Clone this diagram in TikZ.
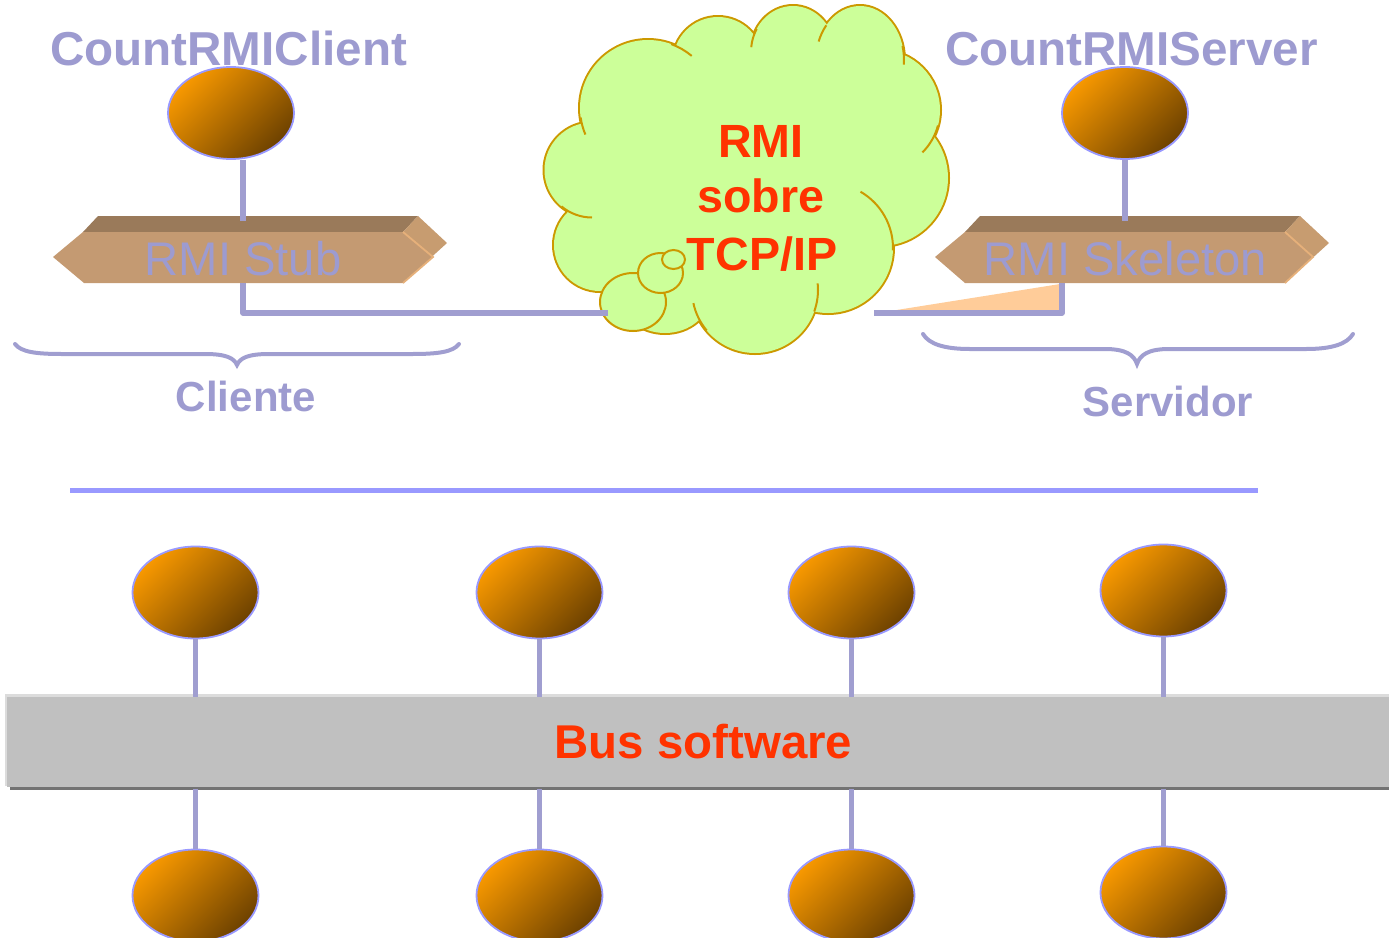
\documentclass[tikz,border=0pt]{standalone}
\usepackage{fontspec}
\setmainfont{Liberation Sans}
\usetikzlibrary{shapes.geometric}
\definecolor{lav}{HTML}{9D9BD0}
\definecolor{linkc}{HTML}{A09ED0}
\definecolor{rulec}{HTML}{9999FF}
\definecolor{ballrim}{HTML}{9999FF}
\definecolor{ballhi}{HTML}{F79800}
\definecolor{balllo}{HTML}{6E4200}
\definecolor{stubfront}{HTML}{C49A72}
\definecolor{stubtop}{HTML}{9A7A5A}
\definecolor{stubside}{HTML}{C79C70}
\definecolor{stubedge}{HTML}{E6B07A}
\definecolor{cloudfill}{HTML}{CCFF99}
\definecolor{cloudline}{HTML}{CC9900}
\definecolor{netred}{HTML}{FF3300}
\definecolor{peach}{HTML}{FFCC99}
\definecolor{busgray}{HTML}{C0C0C0}
\definecolor{buslight}{HTML}{DCDCDC}
\definecolor{busdark}{HTML}{737373}
\begin{document}
\begin{tikzpicture}[x=0.5pt,y=-0.5pt,
  ball/.style={ellipse, inner sep=0pt, minimum width=63pt, minimum height=46pt,
    draw=ballrim, line width=0.9pt, top color=ballhi, bottom color=balllo, shading angle=45},
  link/.style={draw=linkc, line width=2.8pt},
  bracec/.style={draw=linkc, line width=2pt, line cap=round},
  lbl/.style={inner sep=0pt, anchor=base},
  titlelav/.style={lbl, text=lav, font=\bfseries\fontsize{23.8}{28}\selectfont},
  sublav/.style={lbl, text=lav, font=\bfseries\fontsize{21}{25}\selectfont},
  stubtxt/.style={lbl, text=lav, font=\fontsize{23.6}{28}\selectfont},
  redtxt/.style={lbl, text=netred, font=\bfseries\fontsize{23.3}{28}\selectfont},
  busbox/.style={rectangle, fill=busgray, inner sep=0pt, minimum width=696.5pt, minimum height=45pt,
    text=netred, font=\bfseries\fontsize{23.7}{28}\selectfont},
  hook/.style={draw=cloudline, line width=1pt},
  bubble/.style={fill=cloudfill, draw=cloudline, line width=1pt}
]
\useasboundingbox (0,0) rectangle (1389,938);

% ---------- software bus ----------
\fill[buslight] (5,694) rectangle (1400,786);
\node[busbox] (bus) at (703.5,742) {Bus software};
\draw[busdark, line width=1.1pt] (10,788.5) -- (1400,788.5);

% ---------- separator ----------
\coordinate (sepL) at (70,490.5);
\coordinate (sepR) at (1258,490.5);
\draw[rulec, line width=2.9pt] (sepL) -- (sepR);

% ---------- cloud ----------
\foreach \cx/\cy/\rx/\ry in {648/108/68/68, 718/62/45/45, 793/52/42/46, 860/60/44/54,
    880/110/60/60, 880/178/68/68, 828/248/65/65, 755/290/63/63, 665/295/45/38,
    600/245/46/46, 592/170/47.5/47.5}
  \draw[cloudline, line width=2pt] (\cx,\cy) ellipse[x radius=\rx, y radius=\ry];
\foreach \cx/\cy/\rx/\ry in {648/108/68/68, 718/62/45/45, 793/52/42/46, 860/60/44/54,
    880/110/60/60, 880/178/68/68, 828/248/65/65, 755/290/63/63, 665/295/45/38,
    600/245/46/46, 592/170/47.5/47.5}
  \fill[cloudfill] (\cx,\cy) ellipse[x radius=\rx, y radius=\ry];
\fill[cloudfill] (648,108) -- (718,62) -- (793,52) -- (860,60) -- (880,110) -- (880,178)
  -- (828,248) -- (755,290) -- (665,295) -- (600,245) -- (592,170) -- cycle;
% inner ends of the puffs
\foreach \cx/\cy/\rx/\ry/\a/\b in {648/108/68/68/172/157, 648/108/68/68/290/310,
    793/52/42/46/210/186, 860/60/44/54/220/200, 860/60/44/54/-15/5,
    880/110/60/60/15/45, 828/248/65/65/300/362, 755/290/63/63/140/168,
    755/290/63/63/20/-6, 592/170/47.5/47.5/130/90}
  \draw[hook] (\cx,\cy) ++({\rx*cos(\a)},{\ry*sin(\a)}) arc[start angle=\a, end angle=\b, x radius=\rx, y radius=\ry];
% thought bubbles
\draw[bubble] (633,302) ellipse[x radius=33, y radius=29];
\draw[bubble] (660.5,273) ellipse[x radius=22.5, y radius=20];
\draw[bubble] (673.5,259.5) ellipse[x radius=11.5, y radius=9.5];
\node[redtxt] (n1) at (761,157) {RMI};
\node[redtxt] (n2) at (761,212) {sobre};
\node[redtxt] (n3) at (762,270) {TCP/IP};
\coordinate (cloudL) at (608,313);
\coordinate (cloudR) at (874,313);

% ---------- skeleton shadow ----------
\fill[peach] (884,312) -- (1060,284) -- (1060,312) -- cycle;

% ---------- stub bar ----------
\fill[stubtop] (83,232) -- (98,216) -- (418,216) -- (403,232) -- cycle;
\fill[stubside] (403,232) -- (418,216) -- (447,243) -- (403,283) -- (433,257) -- cycle;
\fill[stubfront] (53,257) -- (83,232) -- (403,232) -- (433,257) -- (403,283) -- (84,283) -- cycle;
\draw[stubedge, line width=0.9pt] (403,232) -- (433,257) -- (403,283);
\node[stubtxt] (stubtxt) at (243,275) {RMI Stub};
\coordinate (stubT) at (243,221);
\coordinate (stubB) at (243,283);

% ---------- skeleton bar ----------
\fill[stubtop] (965,232) -- (980,216) -- (1300,216) -- (1285,232) -- cycle;
\fill[stubside] (1285,232) -- (1300,216) -- (1329,243) -- (1285,283) -- (1313,257) -- cycle;
\fill[stubfront] (935,257) -- (965,232) -- (1285,232) -- (1313,257) -- (1285,283) -- (965,283) -- cycle;
\draw[stubedge, line width=0.9pt] (1285,232) -- (1313,257) -- (1285,283);
\node[stubtxt] (skeltxt) at (1125.5,275) {RMI Skeleton};
\coordinate (skelT) at (1125,221);
\coordinate (skelB) at (1062,283);

% ---------- objects ----------
\node[ball] (cli) at (231,113) {};
\node[ball] (srv) at (1125,113) {};
\node[ball] (a1) at (195.5,592.5) {};
\node[ball] (a2) at (539.5,592.5) {};
\node[ball] (a3) at (851.5,592.5) {};
\node[ball] (a4) at (1163.5,590.5) {};
\node[ball] (b1) at (195.5,895.5) {};
\node[ball] (b2) at (539.5,895.5) {};
\node[ball] (b3) at (851.5,895.5) {};
\node[ball] (b4) at (1163.5,892.5) {};

% ---------- connectors ----------
\draw[link] (stubT |- cli.south) -- (stubT);
\draw[link] (srv.south) -- (skelT);
\draw[link, line join=round] (stubB) |- (cloudL);
\draw[link, line join=round] (skelB) |- (cloudR);
\foreach \n in {a1,a2,a3,a4}
  \draw[link] (\n.south) -- (\n.south |- bus.north);
\foreach \n in {b1,b2,b3,b4}
  \draw[link] (\n.north |- bus.south) ++(0,1.5) -- (\n.north);

% ---------- braces ----------
\draw[bracec] (15,344) .. controls (21,352) and (36,354) .. (62,354) -- (205,354)
  .. controls (226,354) and (234,358) .. (237,365)
  .. controls (240,358) and (248,354) .. (269,354) -- (412,354)
  .. controls (438,354) and (453,352) .. (459,344);
\draw[bracec] (923,334) .. controls (929,344) and (944,349) .. (970,349) -- (1105,349)
  .. controls (1126,349) and (1134,355) .. (1137,364)
  .. controls (1140,355) and (1148,349) .. (1169,349) -- (1306,349)
  .. controls (1332,349) and (1347,344) .. (1353,334);

% ---------- labels ----------
\node[titlelav] (tcli) at (228.5,65) {CountRMIClient};
\node[titlelav] (tsrv) at (1131.5,65) {CountRMIServer};
\node[sublav] (lcli) at (246,411) {Cliente};
\node[sublav] (lsrv) at (1168,416) {Servidor};
\end{tikzpicture}
\end{document}
